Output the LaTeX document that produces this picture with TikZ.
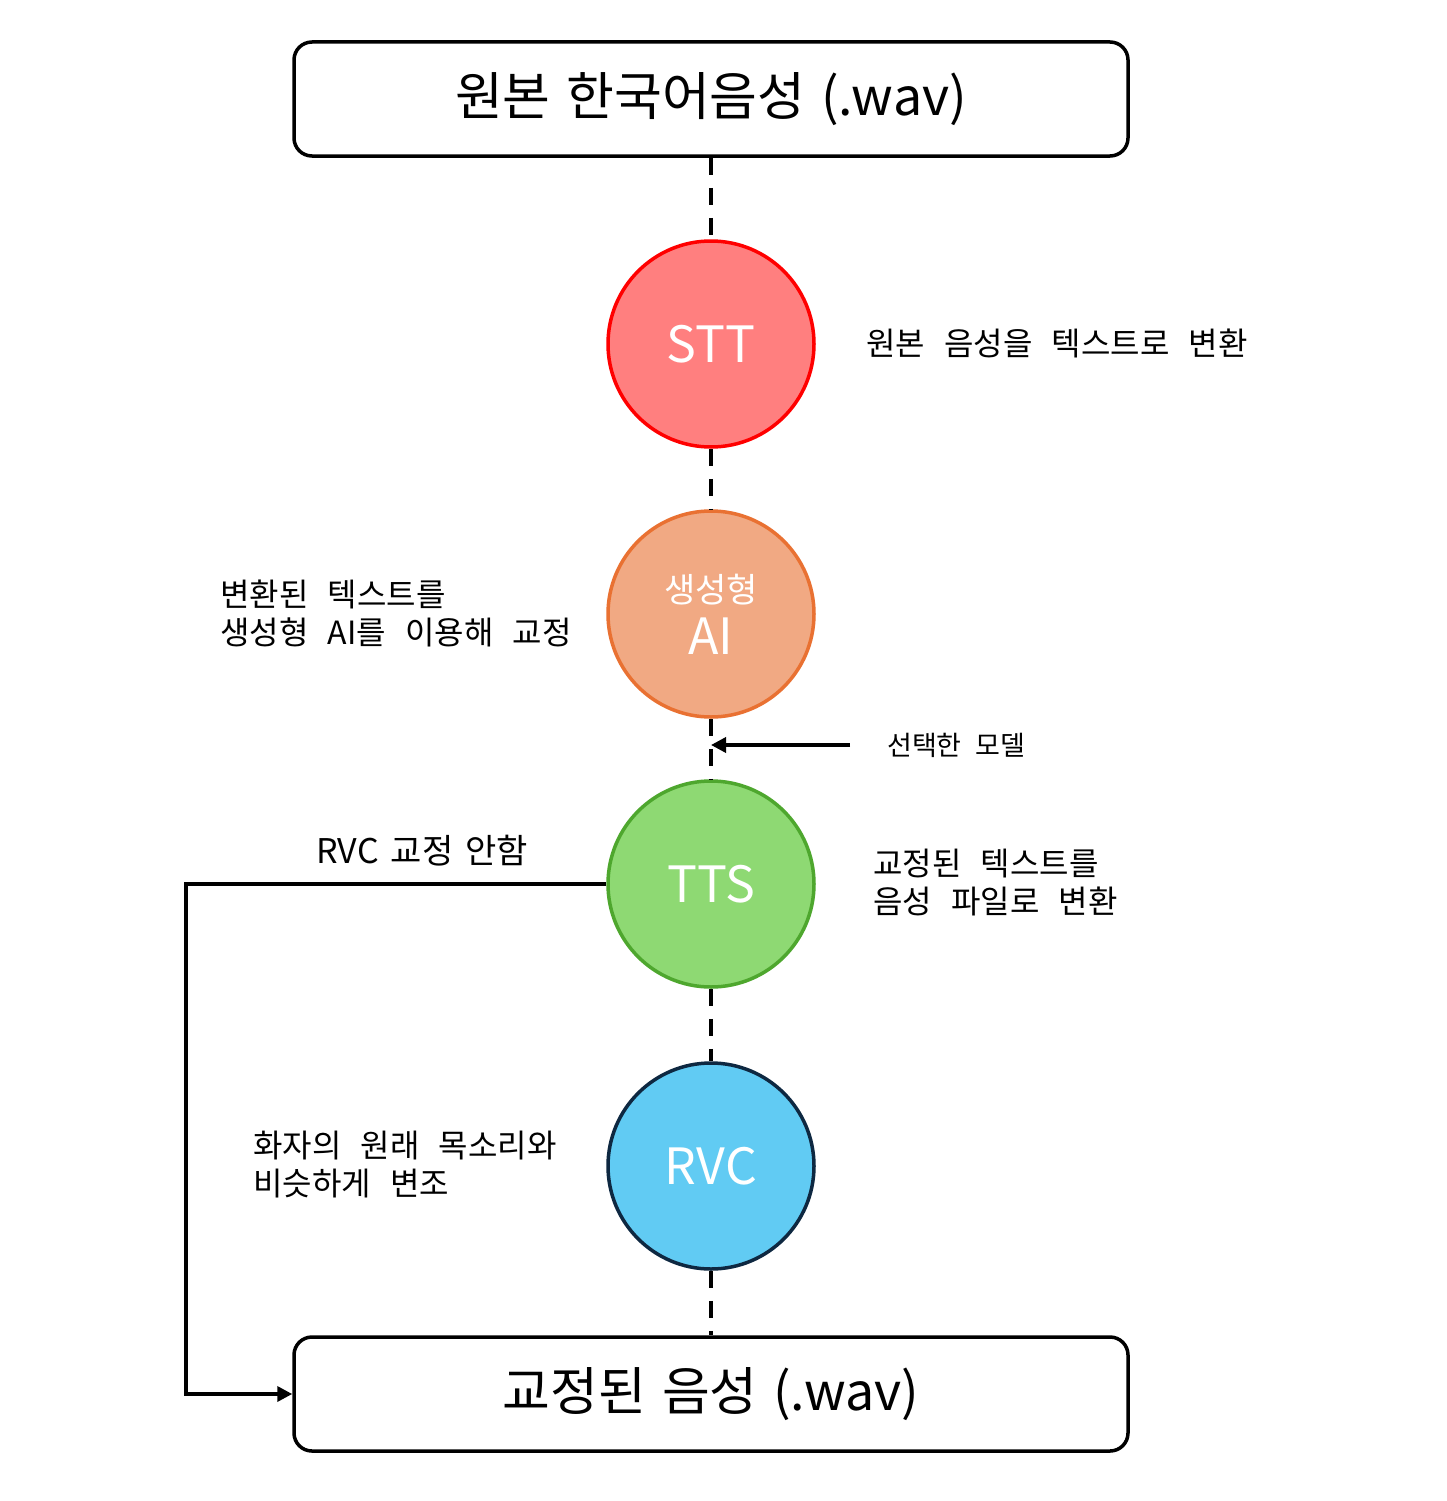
\documentclass[tikz,border=0pt]{standalone}
\usepackage{fontspec}
\setmainfont{Noto Sans CJK KR}
\usetikzlibrary{arrows.meta}
\definecolor{sttfill}{HTML}{FF7F7F}
\definecolor{sttline}{HTML}{FF0000}
\definecolor{aifill}{HTML}{F1A983}
\definecolor{ailine}{HTML}{E97132}
\definecolor{ttsfill}{HTML}{8ED973}
\definecolor{ttsline}{HTML}{4EA72E}
\definecolor{rvcfill}{HTML}{61CBF3}
\definecolor{rvcline}{HTML}{0E2841}
\newcommand{\titlefnt}{\fontsize{52}{60}\selectfont\spaceskip=0.3em\relax}
\newcommand{\notefnt}{\fontsize{32}{38}\selectfont\spaceskip=0.6em\relax}
\newcommand{\selfnt}{\fontsize{27}{32}\selectfont\spaceskip=0.5em\relax}
\newcommand{\skipfnt}{\fontsize{34}{38}\selectfont\spaceskip=0.35em\relax}
\begin{document}
\begin{tikzpicture}[x=1pt,y=-1pt,
  filebox/.style={draw=black,line width=3.5pt,rounded corners=18pt,minimum width=834pt,minimum height=114pt,inner sep=0pt,font=\titlefnt},
  stage/.style={circle,line width=3.5pt,minimum size=206pt,inner sep=0pt,text=white,font=\fontsize{50}{58}\selectfont},
  link/.style={line width=3.5pt,dash pattern=on 17pt off 13pt},
  flow/.style={line width=3.5pt,-{Triangle[length=15pt,width=15pt]}},
  note/.style={anchor=west,align=left,inner sep=0pt,font=\notefnt}]
\useasboundingbox (0,0) rectangle (1447,1501);
\fill[white] (0,0) rectangle (1447,1501);
\node[filebox] (top) at (711,99) {원본 한국어음성 (.wav)};
\node[filebox] (bot) at (711,1394) {교정된 음성 (.wav)};
\node[stage,fill=sttfill,draw=sttline] (stt) at (711,344) {STT};
\node[stage,fill=aifill,draw=ailine,align=center] (ai) at (711,614) {{\fontsize{34}{38}\selectfont 생성형}\\[-6pt]AI};
\node[stage,fill=ttsfill,draw=ttsline] (tts) at (711,884) {TTS};
\node[stage,fill=rvcfill,draw=rvcline] (rvc) at (711,1166) {RVC};
\draw[link] (top) -- (stt);
\draw[link] (stt) -- (ai);
\draw[link] (ai) -- (tts);
\draw[link] (tts) -- (rvc);
\draw[link] (rvc) -- (bot);
\coordinate (sel) at (850,745);
\coordinate (selend) at (711,745);
\draw[flow] (sel) -- (selend);
\coordinate (bend) at (186,884);
\draw[flow] (tts.west) -- (bend) |- (bot.west);
\node[note] (n1) at (866,343) {원본 음성을 텍스트로 변환};
\node[note] (n2) at (220,613) {변환된 텍스트를\\생성형 AI를 이용해 교정};
\node[note,font=\selfnt] (n3) at (887,745) {선택한 모델};
\node[note,font=\skipfnt] (n4) at (316,851) {RVC 교정 안함};
\node[note] (n5) at (873,883) {교정된 텍스트를\\음성 파일로 변환};
\node[note] (n6) at (253,1165) {화자의 원래 목소리와\\비슷하게 변조};
\end{tikzpicture}
\end{document}
